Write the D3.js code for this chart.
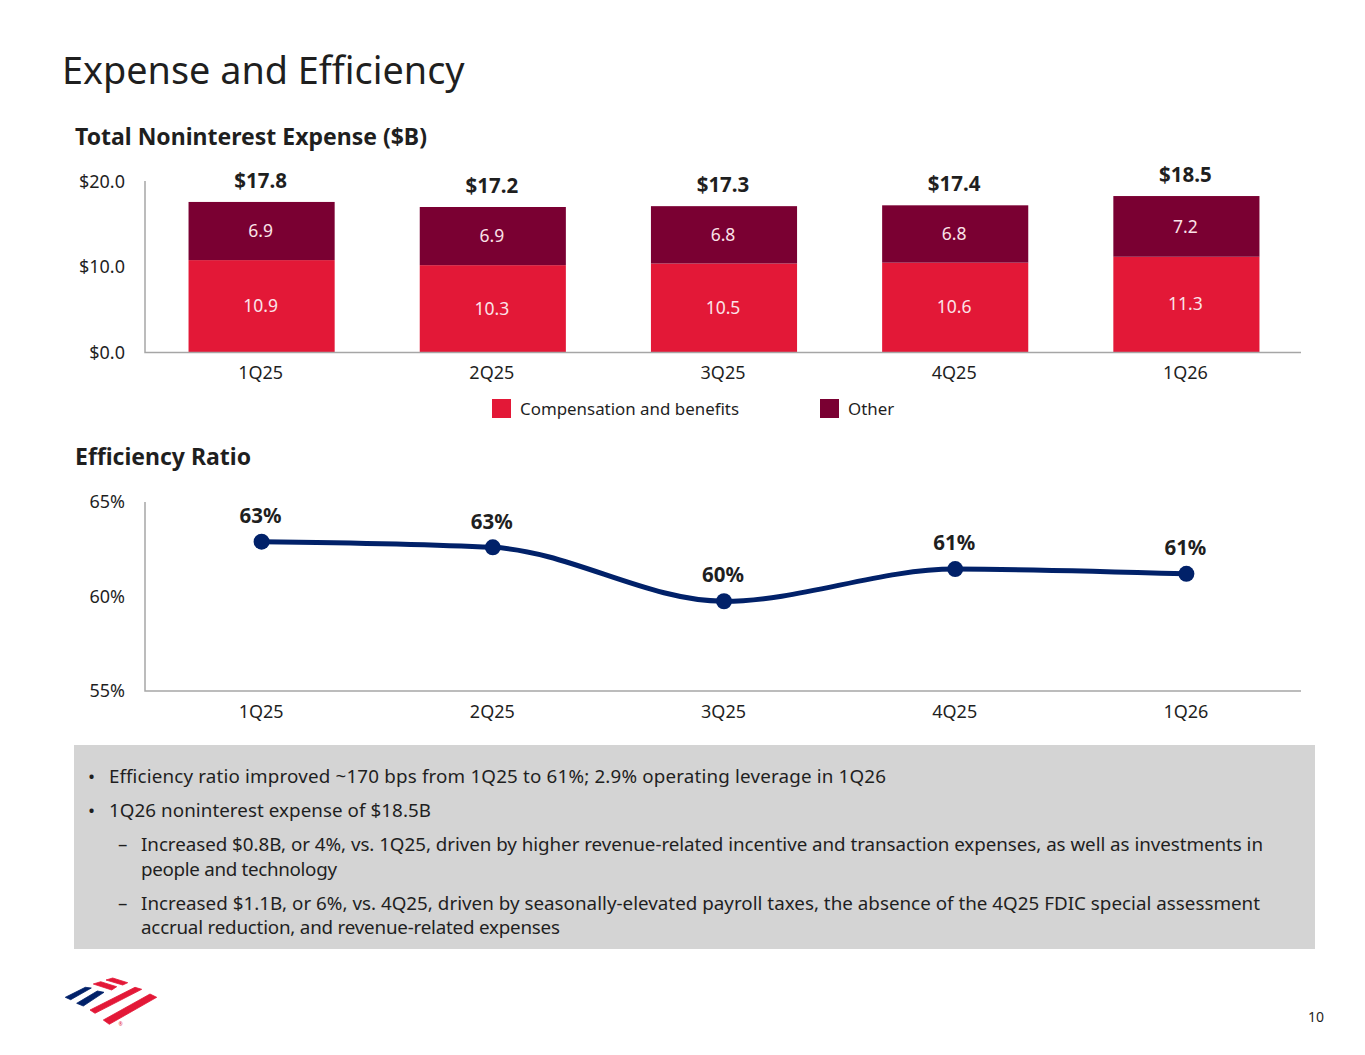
<!DOCTYPE html>
<html>
<head>
<meta charset="utf-8">
<script src="https://cdn.jsdelivr.net/npm/d3@7"></script>
<style>
  html, body { margin: 0; padding: 0; background: #fff; }
  svg { display: block; font-family: "Noto Sans", sans-serif; }
</style>
</head>
<body>
<svg id="slide" width="1365" height="1055"></svg>
<script>
// Data
const quarters = ["1Q25", "2Q25", "3Q25", "4Q25", "1Q26"];
const compensation = [10.9, 10.3, 10.5, 10.6, 11.3];
const other = [6.9, 6.9, 6.8, 6.8, 7.2];
const totals = [17.8, 17.2, 17.3, 17.4, 18.5];
const expenseTicks = [0, 10, 20];
const efficiency = [62.9, 62.6, 59.75, 61.45, 61.2];
const efficiencyLabels = ["63%", "63%", "60%", "61%", "61%"];
const efficiencyTicks = [55, 60, 65];
const legendItems = ["Compensation and benefits", "Other"];
const bullets = [
    { level: 0, lines: ["Efficiency ratio improved ~170 bps from 1Q25 to 61%; 2.9% operating leverage in 1Q26"], y: [776], w: [777] },
    { level: 0, lines: ["1Q26 noninterest expense of $18.5B"], y: [810], w: [322] },
    { level: 1, lines: ["Increased $0.8B, or 4%, vs. 1Q25, driven by higher revenue-related incentive and transaction expenses, as well as investments in", "people and technology"], y: [844, 869], w: [1122, 196] },
    { level: 1, lines: ["Increased $1.1B, or 6%, vs. 4Q25, driven by seasonally-elevated payroll taxes, the absence of the 4Q25 FDIC special assessment", "accrual reduction, and revenue-related expenses"], y: [903, 927], w: [1119, 419] },
];

const colors = { comp: "#e31837", other: "#7a0032", navy: "#012169", axis: "#a6a6a6", text: "#1f1f1f", box: "#d4d4d4" };
const svg = d3.select("#slide");

const addText = (sel, x, y, str, size, opts = {}) =>
    sel.append("text")
        .attr("x", x).attr("y", y)
        .attr("dy", "0.35em")
        .attr("font-size", size)
        .attr("font-weight", opts.weight || 400)
        .attr("text-anchor", opts.anchor || "start")
        .attr("fill", opts.fill || colors.text)
        .text(str);

addText(svg, 62, 71, "Expense and Efficiency", 37.8);
addText(svg, 75, 137, "Total Noninterest Expense ($B)", 23, { weight: 700 });
addText(svg, 75, 457, "Efficiency Ratio", 23, { weight: 700 });

////////////////////////////// Bars //////////////////////////////
const x = d3.scaleBand().domain(quarters).range([146, 1302]).paddingInner(0.368).paddingOuter(0.184);
// bars sit a little lower than the tick labels on the original slide
const yBar = d3.scaleLinear().domain([0, 20]).range([352, 183.4]);
const yTick = d3.scaleLinear().domain([0, 20]).range([352.5, 181.5]);

const stacked = d3.stack().keys(["comp", "other"])(
    quarters.map((q, i) => ({ q, comp: compensation[i], other: other[i] }))
);

const barG = svg.append("g");
barG.selectAll("g.series")
    .data(stacked)
    .join("g")
    .attr("class", "series")
    .attr("fill", (d) => colors[d.key])
    .selectAll("rect")
    .data((d) => d)
    .join("rect")
    .attr("x", (d) => x(d.data.q))
    .attr("y", (d) => yBar(d[1]))
    .attr("width", x.bandwidth())
    .attr("height", (d) => yBar(d[0]) - yBar(d[1]));

stacked.forEach((s) => {
    s.forEach((d) => {
        addText(barG, x(d.data.q) + x.bandwidth() / 2 - 1, (yBar(d[0]) + yBar(d[1])) / 2, d3.format(".1f")(d[1] - d[0]), 17.5, { anchor: "middle", fill: "#fbe3e8" });
    });
});

totals.forEach((t, i) => {
    addText(barG, x(quarters[i]) + x.bandwidth() / 2 - 1, yBar(t) - 21, "$" + d3.format(".1f")(t), 20.5, { anchor: "middle", weight: 700 });
});

const drawAxisLines = (top, bottom) => {
    svg.append("path")
        .attr("d", `M145,${top}V${bottom}H1301`)
        .attr("fill", "none")
        .attr("stroke", colors.axis)
        .attr("stroke-width", 1.5);
};
drawAxisLines(181, 352.5);

const yTickAxis = d3.axisLeft(yTick).tickValues(expenseTicks).tickSize(0).tickPadding(20).tickFormat((d) => "$" + d3.format(".1f")(d));
const styleAxis = (g) => {
    g.attr("font-family", null);
    g.select(".domain").remove();
    g.selectAll("text").attr("font-size", 18).attr("fill", colors.text);
};
svg.append("g").attr("transform", "translate(145,0)").call(yTickAxis).call(styleAxis);
svg.append("g").attr("transform", "translate(-1,352.5)")
    .call(d3.axisBottom(x).tickSize(0).tickPadding(14)).call(styleAxis);

// Legend
const legendX = [492, 820];
const legendColors = [colors.comp, colors.other];
legendItems.forEach((name, i) => {
    svg.append("rect").attr("x", legendX[i]).attr("y", 399).attr("width", 19).attr("height", 19).attr("fill", legendColors[i]);
    addText(svg, legendX[i] + 28, 409.5, name, 16.9);
});

////////////////////////////// Line //////////////////////////////
const xLine = d3.scalePoint().domain(quarters).range([146, 1302]).padding(0.5);
const yLine = d3.scaleLinear().domain([55, 65]).range([691, 502]);

drawAxisLines(502, 691);
svg.append("g").attr("transform", "translate(145,0)")
    .call(d3.axisLeft(yLine).tickValues(efficiencyTicks).tickSize(0).tickPadding(20).tickFormat((d) => d + "%")).call(styleAxis);
svg.append("g").attr("transform", "translate(-1,691)")
    .call(d3.axisBottom(xLine).tickSize(0).tickPadding(14)).call(styleAxis);

const line = d3.line()
    .x((d, i) => xLine(quarters[i]))
    .y((d) => yLine(d))
    .curve(d3.curveMonotoneX);

svg.append("path")
    .datum(efficiency)
    .attr("d", line)
    .attr("fill", "none")
    .attr("stroke", colors.navy)
    .attr("stroke-width", 5);

svg.selectAll("circle.pt")
    .data(efficiency)
    .join("circle")
    .attr("class", "pt")
    .attr("cx", (d, i) => xLine(quarters[i]))
    .attr("cy", (d) => yLine(d))
    .attr("r", 8)
    .attr("fill", colors.navy);

efficiency.forEach((v, i) => {
    addText(svg, xLine(quarters[i]) - 1, yLine(v) - 26, efficiencyLabels[i], 20.5, { anchor: "middle", weight: 700 });
});

////////////////////////////// Text box //////////////////////////////
svg.append("rect").attr("x", 74).attr("y", 745).attr("width", 1241).attr("height", 204).attr("fill", colors.box);

bullets.forEach((b) => {
    const markX = b.level === 0 ? 88 : 118;
    const textX = b.level === 0 ? 109 : 141;
    addText(svg, markX, b.y[0], b.level === 0 ? "•" : "–", 18.8);
    b.lines.forEach((l, i) => addText(svg, textX, b.y[i], l, 18.8).attr("textLength", b.w[i]));
});

////////////////////////////// Logo //////////////////////////////
const logoNavy = [
    [[65.3, 997.3], [85.3, 987.3], [91.3, 988], [70.7, 999.7]],
    [[76.7, 1003.3], [97.3, 991], [104, 992.3], [83.3, 1006]],
];
const logoRed = [
    [[93.3, 984], [100.7, 981.7], [116.7, 986.7], [111.7, 990]],
    [[106, 980], [112.7, 978], [127.7, 982.7], [122.7, 985]],
    [[90, 1010], [135, 987.3], [141.7, 989.3], [95, 1013.3]],
    [[103.3, 1020], [150, 994], [156.7, 997.3], [109.3, 1024.3]],
];
const logo = svg.append("g").attr("stroke-width", 0.8).attr("stroke-linejoin", "round");
logo.selectAll("polygon.navy").data(logoNavy).join("polygon").attr("class", "navy")
    .attr("points", (d) => d.join(" ")).attr("fill", colors.navy).attr("stroke", colors.navy);
logo.selectAll("polygon.red").data(logoRed).join("polygon").attr("class", "red")
    .attr("points", (d) => d.join(" ")).attr("fill", colors.comp).attr("stroke", colors.comp);
addText(logo, 120.7, 1024, "®", 5, { anchor: "middle", fill: colors.comp }).attr("stroke", "none");

addText(svg, 1324, 1017, "10", 14, { anchor: "end" });
</script>
</body>
</html>
